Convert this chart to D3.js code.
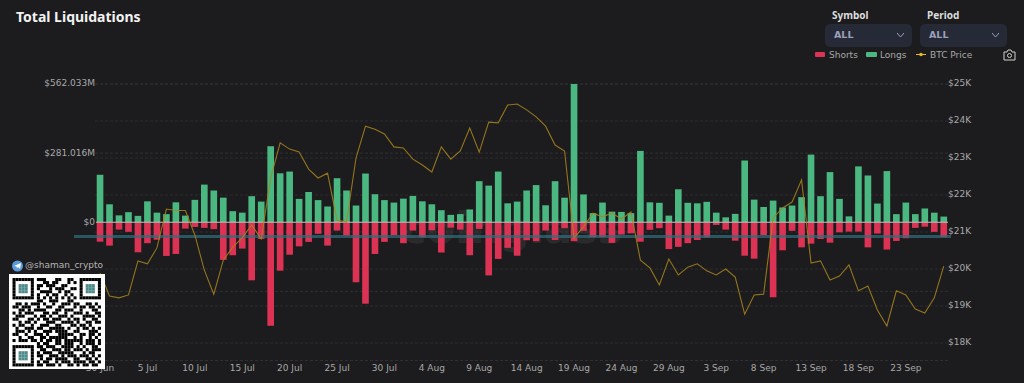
<!DOCTYPE html>
<html>
<head>
<meta charset="utf-8">
<style>
html, body { margin: 0; padding: 0; background: #1c1c1e; overflow: hidden; }
text { font-family: "DejaVu Sans", sans-serif; }
</style>
<script src="https://cdn.jsdelivr.net/npm/d3@7"></script>
</head>
<body>
<div id="chart"></div>
<script>
var days = ["30 Jun",
  "1 Jul","2 Jul","3 Jul","4 Jul","5 Jul","6 Jul","7 Jul","8 Jul","9 Jul","10 Jul","11 Jul","12 Jul","13 Jul","14 Jul","15 Jul","16 Jul","17 Jul","18 Jul","19 Jul","20 Jul","21 Jul","22 Jul","23 Jul","24 Jul","25 Jul","26 Jul","27 Jul","28 Jul","29 Jul","30 Jul","31 Jul",
  "1 Aug","2 Aug","3 Aug","4 Aug","5 Aug","6 Aug","7 Aug","8 Aug","9 Aug","10 Aug","11 Aug","12 Aug","13 Aug","14 Aug","15 Aug","16 Aug","17 Aug","18 Aug","19 Aug","20 Aug","21 Aug","22 Aug","23 Aug","24 Aug","25 Aug","26 Aug","27 Aug","28 Aug","29 Aug","30 Aug","31 Aug",
  "1 Sep","2 Sep","3 Sep","4 Sep","5 Sep","6 Sep","7 Sep","8 Sep","9 Sep","10 Sep","11 Sep","12 Sep","13 Sep","14 Sep","15 Sep","16 Sep","17 Sep","18 Sep","19 Sep","20 Sep","21 Sep","22 Sep","23 Sep","24 Sep","25 Sep","26 Sep","27 Sep"];
// millions of dollars
var longs = [193,73,28,41,26,85,39,33,81,27,91,153,129,100,45,39,106,84,309,199,206,95,123,90,64,179,
  129,68,198,114,90,80,96,107,85,73,49,30,33,52,167,149,206,77,84,129,151,69,167,100,562,113,37,80,43,42,37,290,81,79,27,134,
  79,77,83,39,20,34,251,92,62,88,60,68,102,275,106,204,95,24,227,190,76,208,33,80,33,56,39,23];
var shorts = [79,95,30,39,122,85,71,137,129,26,19,23,28,153,134,107,236,68,421,197,132,98,80,47,95,34,
  54,244,331,129,80,52,85,34,61,33,123,22,30,134,27,216,149,104,136,73,77,34,72,24,77,35,60,60,84,50,45,79,31,24,109,100,
  85,72,62,11,30,75,136,148,52,305,114,35,102,87,68,83,41,38,38,102,46,111,76,65,23,18,39,60];
// thousands of dollars
var btcPrice = [19.89,19.27,19.22,19.30,20.22,20.14,20.57,21.62,21.58,21.58,20.92,19.97,19.32,20.24,20.59,20.84,21.19,20.81,22.46,23.41,23.24,23.16,22.70,22.46,22.59,21.32,
  21.27,23.00,23.86,23.78,23.65,23.30,23.27,22.97,22.81,22.62,23.30,22.97,23.19,23.81,23.16,23.97,23.95,24.43,24.46,24.30,24.11,23.86,23.35,23.19,20.84,21.14,21.51,21.41,21.51,21.35,21.54,20.24,20.03,19.57,20.27,19.84,
  20.05,20.14,19.95,19.84,20.00,19.78,18.78,19.30,19.32,21.38,21.65,21.81,22.41,20.16,20.22,19.70,19.81,20.11,19.41,19.54,18.89,18.46,19.41,19.30,18.92,18.81,19.22,20.08];
var xTicks = ["30 Jun","5 Jul","10 Jul","15 Jul","20 Jul","25 Jul","30 Jul","4 Aug","9 Aug","14 Aug","19 Aug","24 Aug","29 Aug","3 Sep","8 Sep","13 Sep","18 Sep","23 Sep"];
var leftTicks = [562.033, 281.016, 0];
var leftGrid = [562.033, 281.016, -281.016, -562.033];
var rightTicks = [18, 19, 20, 21, 22, 23, 24, 25];
var legendNames = ["Shorts", "Longs", "BTC Price"];
var qrRows = [
  "11111110111000110011001111111",
  "10000010001101100010101000001",
  "10222010110111001100001022201",
  "10222010100010111001101022201",
  "10222010011110010110001022201",
  "10000010100101100101001000001",
  "11111110101010101010101111111",
  "00000000110011100011000000000",
  "01101011101001001110110011010",
  "11011100100110011000101101101",
  "00110101111000110111001000110",
  "10101110001101100100111010011",
  "01110001011010011101000111101",
  "11000110101101110010110100110",
  "00101101000111001111010011011",
  "10110010011100110001101101000",
  "01001110110011111010010110101",
  "01110101001110111100110001110",
  "11001001110100011111001101101",
  "00100110011011111100101001010",
  "10111011010110110111111011101",
  "00000000101100110111001011101",
  "11111110110111001111010100110",
  "10000010011001110110111010111",
  "10222010101110011111000101100",
  "10222010110011101011101110101",
  "10222010010110111100110011010",
  "10000010101100101110111101101",
  "11111110110111010011010110110"
];

var width = 1024;
var height = 383;

var svg = d3.select('#chart').append('svg')
  .attr('width', width).attr('height', height)
  .style('display', 'block');

var x = d3.scaleBand().domain(days).range([95.3, 948.5]).paddingInner(0.3).paddingOuter(0.15);
var yLeft = d3.scaleLinear().domain([-562.033, 562.033]).range([360.5, 84]);
var yRight = d3.scaleLinear().domain([18, 25]).range([343, 84]);

// grid
svg.append('g').selectAll('line').data(leftGrid).enter().append('line')
  .attr('x1', 95).attr('x2', 948)
  .attr('y1', function (d) { return yLeft(d); }).attr('y2', function (d) { return yLeft(d); })
  .attr('stroke', '#303032').attr('stroke-dasharray', '3,2');
svg.append('g').selectAll('line').data(rightTicks).enter().append('line')
  .attr('x1', 95).attr('x2', 948)
  .attr('y1', function (d) { return yRight(d); }).attr('y2', function (d) { return yRight(d); })
  .attr('stroke', '#2c2c2e').attr('stroke-dasharray', '3,2');

// axes
var axisLeft = d3.axisLeft(yLeft).tickValues(leftTicks).tickSize(0).tickPadding(0)
  .tickFormat(function (d) { return d === 0 ? '$0' : '$' + d3.format('.3f')(d) + 'M'; });
svg.append('g').attr('class', 'axis').attr('transform', 'translate(95,-1)').call(axisLeft);
var axisRight = d3.axisRight(yRight).tickValues(rightTicks).tickSize(0).tickPadding(0)
  .tickFormat(function (d) { return '$' + d + 'K'; });
svg.append('g').attr('class', 'axis').attr('transform', 'translate(948,-1)').call(axisRight);
var axisBottom = d3.axisBottom(x).tickValues(xTicks).tickSize(0).tickPadding(0);
svg.append('g').attr('class', 'axis').attr('transform', 'translate(0,365)').call(axisBottom);
svg.selectAll('.axis .domain').remove();
svg.selectAll('.axis text').attr('fill', '#a8a8a8').style('font-size', '9px').style('font-family', '"DejaVu Sans", sans-serif');

// watermark
svg.append('text').attr('x', 512).attr('y', 243).attr('text-anchor', 'middle')
  .attr('fill', '#fff').attr('opacity', 0.06)
  .style('font-size', '42px').style('font-weight', 'bold').text('coinglass');

// bars
svg.append('g').selectAll('rect').data(longs).enter().append('rect')
  .attr('x', function (d, i) { return x(days[i]); })
  .attr('width', x.bandwidth())
  .attr('y', function (d) { return yLeft(d); })
  .attr('height', function (d) { return yLeft(0) - yLeft(d); })
  .attr('fill', '#4ab880');
svg.append('g').selectAll('rect').data(shorts).enter().append('rect')
  .attr('x', function (d, i) { return x(days[i]); })
  .attr('width', x.bandwidth())
  .attr('y', yLeft(0))
  .attr('height', function (d) { return yLeft(-d) - yLeft(0); })
  .attr('fill', '#dc3253');

// zero line and the teal band
svg.append('line').attr('x1', 96).attr('x2', 948).attr('y1', yLeft(0)).attr('y2', yLeft(0))
  .attr('stroke', '#c4c0c0').attr('stroke-width', 1);
svg.append('line').attr('x1', 74).attr('x2', 951).attr('y1', 236.5).attr('y2', 236.5)
  .attr('stroke', '#2f6f7d').attr('stroke-width', 3).attr('opacity', 0.7);

// price
var line = d3.line()
  .x(function (d, i) { return x(days[i]) + x.bandwidth() / 2; })
  .y(function (d) { return yRight(d); });
svg.append('path').datum(btcPrice).attr('d', line)
  .attr('fill', 'none').attr('stroke', '#a8851c').attr('stroke-width', 1.1).attr('opacity', 0.85);

// title
svg.append('text').attr('x', 16).attr('y', 22).attr('fill', '#f2f2f2')
  .style('font-family', '"Noto Sans", sans-serif')
  .style('font-size', '14px').style('font-weight', 'bold').text('Total Liquidations');

// selects
var selects = [{ label: 'Symbol', x: 825 }, { label: 'Period', x: 920 }];
selects.forEach(function (s) {
  svg.append('text').attr('x', s.x + 7).attr('y', 19).attr('fill', '#dcdcdc')
    .style('font-family', '"Noto Sans", sans-serif')
    .style('font-size', '10px').style('font-weight', 'bold').text(s.label);
  svg.append('rect').attr('x', s.x).attr('y', 24).attr('width', 87).attr('height', 23).attr('rx', 5).attr('fill', '#262936');
  svg.append('text').attr('x', s.x + 9).attr('y', 38).attr('fill', '#9aa0b8')
    .style('font-size', '9.5px').style('font-weight', 'bold').text('ALL');
  svg.append('path').attr('d', 'M' + (s.x + 72) + ',33l3.5,4l3.5,-4')
    .attr('fill', 'none').attr('stroke', '#9aa0b8').attr('stroke-width', 1);
});

// legend
svg.append('rect').attr('x', 815).attr('y', 52).attr('width', 10).attr('height', 5).attr('rx', 1).attr('fill', '#dc3253');
svg.append('rect').attr('x', 866).attr('y', 52).attr('width', 11).attr('height', 5).attr('rx', 1).attr('fill', '#4ab880');
svg.append('line').attr('x1', 916).attr('x2', 926).attr('y1', 54.5).attr('y2', 54.5).attr('stroke', '#e8b923');
svg.append('circle').attr('cx', 921).attr('cy', 54.5).attr('r', 1.8).attr('fill', '#e8b923');
svg.selectAll('.legend').data(legendNames).enter().append('text')
  .attr('class', 'legend')
  .attr('x', function (d, i) { return [829, 880, 930][i]; })
  .attr('y', 58).attr('fill', '#a8a8a8').style('font-size', '9px')
  .text(function (d) { return d; });

// camera icon
var cam = svg.append('g').attr('fill', 'none').attr('stroke', '#cfcfcf').attr('stroke-width', 1);
cam.append('path').attr('d', 'M1004,52h3l1,-2h3l1,2h3v8h-11z');
cam.append('circle').attr('cx', 1009.5).attr('cy', 55.5).attr('r', 2);

// qr code and handle
svg.append('rect').attr('x', 9).attr('y', 274).attr('width', 96).attr('height', 95).attr('fill', '#fff');
var qrColors = { '1': '#000', '2': '#4f8a8b' };
var mod = 3.05;
qrRows.forEach(function (row, r) {
  row.split('').forEach(function (c, k) {
    if (c !== '0') {
      svg.append('rect').attr('x', 12.5 + k * mod).attr('y', 278 + r * mod)
        .attr('width', mod).attr('height', mod).attr('fill', qrColors[c]);
    }
  });
});
svg.append('circle').attr('cx', 17.5).attr('cy', 266).attr('r', 5.5).attr('fill', '#5b9bdb');
svg.append('path').attr('d', 'M14,266l7,-3l-1,6l-2,-2l-1,1.5l-0.5,-2z').attr('fill', '#fff');
svg.append('text').attr('x', 25).attr('y', 268).attr('fill', '#b4b4b4')
  .style('font-size', '9px').text('@shaman_crypto');
</script>
</body>
</html>
